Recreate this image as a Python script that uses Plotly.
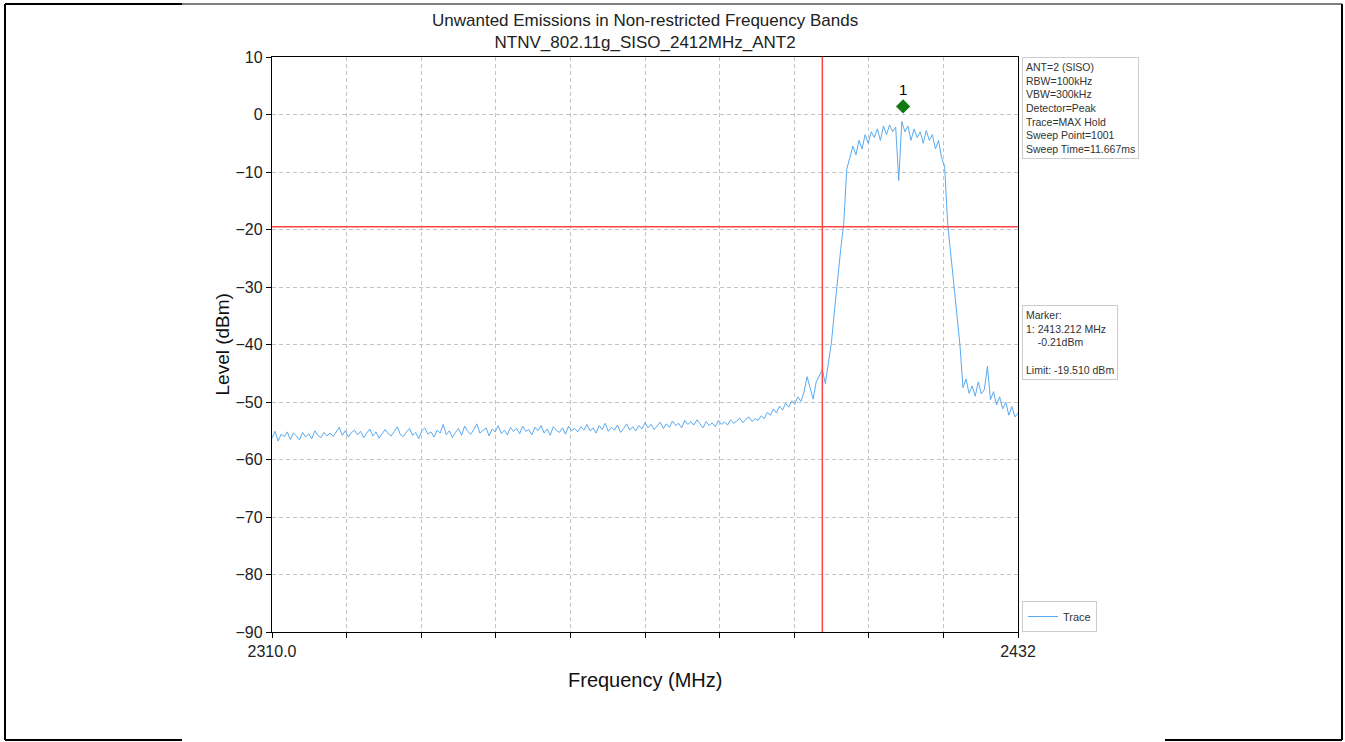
import numpy as np
import plotly.graph_objects as go

# ---------------- data ----------------
freq_start_mhz = 2310.0
freq_stop_mhz = 2432.0
freq_step_mhz = 0.5

level_dbm = [
    # 2310 - 2319.5
    -56.3, -55.1, -56.8, -55.6, -56.0, -55.2, -56.5, -55.4, -55.9, -56.6,
    -55.3, -56.1, -55.5, -56.4, -55.0, -55.8, -56.2, -55.3, -55.9, -55.4,
    # 2320 - 2329.5
    -56.0, -55.2, -54.4, -55.8, -55.0, -56.1, -55.3, -54.9, -55.7, -55.1,
    -56.2, -55.4, -54.7, -55.9, -55.2, -56.3, -55.6, -54.8, -55.5, -55.9,
    # 2330 - 2339.5
    -55.1, -54.3, -55.7, -56.0, -55.2, -54.6, -55.8, -55.3, -56.4, -55.0,
    -54.5, -55.6, -55.2, -56.1, -54.9, -55.4, -53.9, -55.7, -55.0, -56.2,
    # 2340 - 2349.5
    -55.3, -54.6, -55.8, -54.2, -55.1, -55.6, -54.8, -53.8, -55.4, -55.0,
    -54.5, -55.9, -54.7, -55.2, -54.1, -55.5, -54.9, -55.7, -54.4, -55.1,
    # 2350 - 2359.5
    -54.6, -55.5, -54.2, -55.1, -54.8, -55.7, -54.4, -55.0, -54.1, -55.4,
    -54.7, -55.8, -54.3, -54.9, -55.3, -54.5, -55.6, -54.2, -55.0, -54.6,
    # 2360 - 2369.5
    -55.2, -54.3, -54.9, -53.9, -55.0, -54.5, -55.4, -54.1, -54.8, -53.7,
    -55.1, -54.4, -54.9, -54.0, -55.3, -54.6, -53.8, -54.9, -54.3, -55.0,
    # 2370 - 2379.5
    -54.1, -54.7, -53.6, -54.5, -53.9, -54.8, -54.2, -53.5, -54.6, -53.8,
    -54.4, -53.3, -54.1, -53.7, -54.5, -53.2, -53.9, -53.4, -54.0, -53.1,
    # 2380 - 2389.5
    -53.8, -54.5, -53.4, -54.1, -53.6, -54.3, -53.2, -53.9, -53.5, -54.0,
    -53.1, -53.7, -53.3, -52.8, -53.6, -53.0, -52.6, -53.4, -52.9, -53.2,
    # 2390 - 2399.5
    -52.4, -52.9, -51.8, -52.3, -51.2, -51.9, -50.7, -51.4, -50.2, -50.9,
    -49.8, -50.4, -49.1, -49.9, -48.3, -45.6, -47.5, -49.5, -46.5, -45.5,
    # 2400 - 2404
    -44.4, -46.8, -43.0, -39.5, -34.0, -28.5, -23.5, -19.0, -9.5,
    # 2404.5 - 2419.5
    -7.5, -5.5, -7.0, -4.5, -6.0, -3.5, -5.0, -3.0, -4.0, -2.5,
    -4.5, -2.0, -3.5, -1.8, -3.0, -2.2, -11.5, -1.2, -3.0, -2.0,
    -4.5, -2.5, -4.0, -3.0, -5.0, -2.8, -4.5, -3.5, -6.0, -4.5, -7.5,
    # 2420 - 2423
    -9.0, -19.0, -24.5, -29.5, -35.0, -40.0, -47.5,
    # 2423.5 - 2432
    -46.0, -48.5, -47.2, -49.0, -46.5, -48.6, -47.8, -43.8, -49.6, -48.2,
    -50.5, -49.1, -51.2, -50.0, -52.3, -50.8, -52.6, -51.9,
]

limit_dbm = -19.51
band_edge_mhz = 2400.0
marker_freq_mhz = 2413.212
marker_plot_level = 1.4
marker_label = "1"

y_tick_vals = [10, 0, -10, -20, -30, -40, -50, -60, -70, -80, -90]
x_tick_vals = [2310.0, 2322.2, 2334.4, 2346.6, 2358.8, 2371.0, 2383.2, 2395.4, 2407.6, 2419.8, 2432.0]
x_tick_text = ["2310.0", "", "", "", "", "", "", "", "", "", "2432"]

title_lines = ["Unwanted Emissions in Non-restricted Frequency Bands",
               "NTNV_802.11g_SISO_2412MHz_ANT2"]
settings_lines = ["ANT=2 (SISO)", "RBW=100kHz", "VBW=300kHz", "Detector=Peak",
                  "Trace=MAX Hold", "Sweep Point=1001", "Sweep Time=11.667ms"]
marker_lines = ["Marker:", "1: 2413.212 MHz", "&nbsp;&nbsp;&nbsp;&nbsp;-0.21dBm", "",
                "Limit: -19.510 dBm"]

freq_mhz = np.arange(len(level_dbm)) * freq_step_mhz + freq_start_mhz

# ---------------- figure ----------------
FONT = "Liberation Sans, Arial, sans-serif"
fig = go.Figure()

fig.add_trace(go.Scatter(
    x=freq_mhz, y=level_dbm, mode="lines", name="Trace",
    line=dict(color="#5aaaf0", width=1),
))

fig.add_trace(go.Scatter(
    x=[marker_freq_mhz], y=[marker_plot_level], mode="markers+text",
    text=[marker_label], textposition="top center",
    textfont=dict(size=15, color="black", family=FONT),
    marker=dict(symbol="diamond", size=11, color="#107a10"),
    showlegend=False, cliponaxis=False,
))

# limit lines
fig.add_shape(type="line", xref="x", yref="paper", x0=band_edge_mhz, x1=band_edge_mhz,
              y0=0, y1=1, line=dict(color="#ff4444", width=1.5))
fig.add_shape(type="line", xref="paper", yref="y", x0=0, x1=1,
              y0=limit_dbm, y1=limit_dbm, line=dict(color="#ff4444", width=1.5))

# outer page frame
L, R, T, B = 272, 1018, 57, 632
def px(xp):
    return (xp - L) / (R - L)
def py(yp):
    return (B - yp) / (B - T)

frame = dict(color="black", width=2)
fig.add_shape(type="line", xref="paper", yref="paper", x0=px(5), x1=px(5), y0=py(4), y1=py(740), line=frame)
fig.add_shape(type="line", xref="paper", yref="paper", x0=px(1342), x1=px(1342), y0=py(4), y1=py(740), line=frame)
fig.add_shape(type="line", xref="paper", yref="paper", x0=px(5), x1=px(182), y0=py(4), y1=py(4), line=frame)
fig.add_shape(type="line", xref="paper", yref="paper", x0=px(182), x1=px(1342), y0=py(4), y1=py(4),
              line=dict(color="black", width=1))
fig.add_shape(type="line", xref="paper", yref="paper", x0=px(5), x1=px(182), y0=py(740), y1=py(740), line=frame)
fig.add_shape(type="line", xref="paper", yref="paper", x0=px(1165), x1=px(1342), y0=py(740), y1=py(740), line=frame)

# title
fig.add_annotation(xref="paper", yref="paper", x=0.5, y=py(9), yanchor="top", xanchor="center",
                   text="<br>".join(title_lines), showarrow=False,
                   font=dict(size=17, color="#222", family=FONT))

# axis titles
fig.add_annotation(xref="paper", yref="paper", x=px(222), y=0.5, textangle=-90,
                   text="Level (dBm)", showarrow=False, xanchor="center", yanchor="middle",
                   font=dict(size=19, color="#111", family=FONT))
fig.add_annotation(xref="paper", yref="paper", x=0.5, y=py(680),
                   text="Frequency (MHz)", showarrow=False, xanchor="center", yanchor="middle",
                   font=dict(size=20, color="#111", family=FONT))

# info boxes
fig.add_annotation(xref="paper", yref="paper", x=px(1022), y=1, xanchor="left", yanchor="top",
                   text="<br>".join(settings_lines), align="left", showarrow=False,
                   font=dict(size=10.5, color="#333", family=FONT),
                   bgcolor="white", bordercolor="#cccccc", borderwidth=1, borderpad=3)
fig.add_annotation(xref="paper", yref="paper", x=px(1022), y=py(305), xanchor="left", yanchor="top",
                   text="<br>".join(marker_lines), align="left", showarrow=False,
                   font=dict(size=10.5, color="#333", family=FONT),
                   bgcolor="white", bordercolor="#cccccc", borderwidth=1, borderpad=3)

axis_common = dict(showline=True, linecolor="black", linewidth=1.3, mirror=True,
                   ticks="outside", ticklen=5, tickcolor="black", tickwidth=1,
                   showgrid=True, gridcolor="#c4c4c4", griddash="4px,3px", gridwidth=1,
                   zeroline=False, tickfont=dict(size=16, color="#222", family=FONT))

fig.update_xaxes(range=[freq_start_mhz, freq_stop_mhz], tickvals=x_tick_vals,
                 ticktext=x_tick_text, **axis_common)
fig.update_yaxes(range=[-90, 10], tickvals=y_tick_vals, **axis_common)

fig.update_layout(
    width=1345, height=742,
    margin=dict(l=L, r=1345 - R, t=T, b=742 - B),
    paper_bgcolor="white", plot_bgcolor="white",
    font=dict(family=FONT),
    showlegend=True,
    legend=dict(x=px(1022), y=0, xanchor="left", yanchor="bottom",
                bordercolor="#cccccc", borderwidth=1, bgcolor="white",
                font=dict(size=11, color="#333", family=FONT)),
)

fig.write_html("out.html", config={"displayModeBar": False},
               post_script="document.body.style.margin='0';document.body.style.overflow='hidden';")
